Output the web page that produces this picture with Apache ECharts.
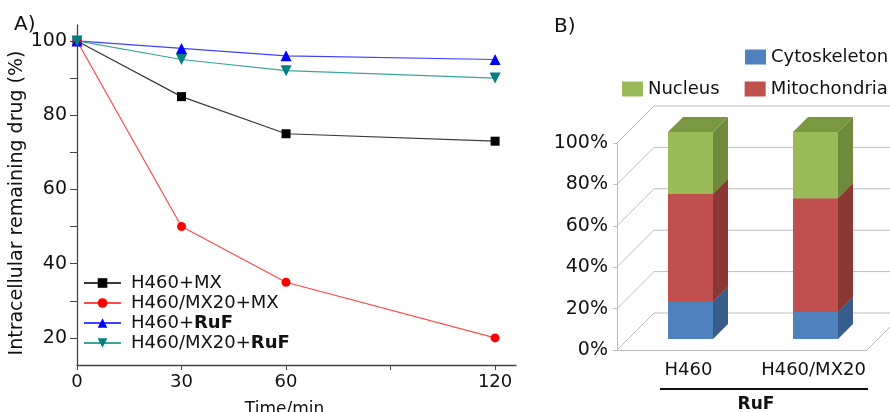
<!DOCTYPE html>
<html>
<head>
<meta charset="utf-8">
<script src="https://cdn.jsdelivr.net/npm/echarts@6/dist/echarts.min.js"></script>
<style>
  html, body { margin: 0; padding: 0; background: #fff; }
  #main { width: 890px; height: 412px; }
</style>
</head>
<body>
<div id="main"></div>
<script>
const font = 'DejaVu Sans'

// panel A: remaining drug over time
const times = [0, 30, 60, 120]
const h460MX = [100, 85, 75, 73]
const mx20MX = [100, 50, 35, 20]
const h460RuF = [100, 98, 96, 95]
const mx20RuF = [100, 95, 92, 90]
const timeLabels = [0, 30, 60, 120]
const timeTicks = [0, 30, 60, 90, 120]
const drugLabels = [20, 40, 60, 80, 100]
const drugTicks = [20, 30, 40, 50, 60, 70, 80, 90, 100]

// panel B: subcellular distribution (%)
const cells = ['H460', 'H460/MX20']
const cytoskeleton = [18, 13]
const mitochondria = [52, 55]
const nucleus = [30, 32]
const pctTicks = [0, 20, 40, 60, 80, 100]

const chart = echarts.init(document.getElementById('main'))

function pairs (ys) {
  return times.map((t, i) => [t, ys[i]])
}

// stack the three parts as [category, from, to]
function stacked (vals, below) {
  return vals.map((v, i) => {
    const base = below.reduce((s, arr) => s + arr[i], 0)
    return [i, base, base + v]
  })
}

const DEPTH = 37 // wall depth in px
const BAR_OFF = 11 // bar front face offset into the depth
const BAR_DEPTH = 15

function cuboid (front, side, top) {
  return function (params, api) {
    const cat = api.value(0)
    const lo = api.coord([cat, api.value(1)])
    const hi = api.coord([cat, api.value(2)])
    const w = api.size([1, 0])[0] * 0.36
    const x0 = lo[0] - w / 2 + BAR_OFF
    const x1 = x0 + w
    const yb = lo[1] - BAR_OFF
    const yt = hi[1] - BAR_OFF
    const d = BAR_DEPTH
    return {
      type: 'group',
      children: [
        { type: 'rect', shape: { x: x0, y: yt, width: w, height: yb - yt }, style: { fill: front } },
        { type: 'polygon', shape: { points: [[x1, yb], [x1 + d, yb - d], [x1 + d, yt - d], [x1, yt]] }, style: { fill: side } },
        { type: 'polygon', shape: { points: [[x0, yt], [x0 + d, yt - d], [x1 + d, yt - d], [x1, yt]] }, style: { fill: top } }
      ]
    }
  }
}

function walls (params, api) {
  const cs = params.coordSys
  const left = cs.x
  const right = cs.x + cs.width
  const y = api.coord([0, api.value(0)])[1]
  const lines = [{
    type: 'polyline',
    shape: { points: [[left, y], [left + DEPTH, y - DEPTH], [right + DEPTH, y - DEPTH]] },
    style: { stroke: '#bdbdbd', lineWidth: 1, fill: null }
  }]
  if (api.value(0) === 0) {
    lines.push({
      type: 'line',
      shape: { x1: right, y1: y, x2: right + DEPTH, y2: y - DEPTH },
      style: { stroke: '#bdbdbd', lineWidth: 1 }
    })
  }
  return { type: 'group', children: lines }
}

const option = {
  animation: false,
  textStyle: { fontFamily: font },
  title: [
    { text: 'A)', left: 9, top: 10, textStyle: { fontFamily: font, fontSize: 20, fontWeight: 'normal', color: '#111' } },
    { text: 'B)', left: 549, top: 12, textStyle: { fontFamily: font, fontSize: 20, fontWeight: 'normal', color: '#111' } }
  ],
  legend: [
    {
      orient: 'vertical',
      left: 83,
      top: 274,
      padding: 0,
      itemWidth: 37,
      itemHeight: 12,
      itemGap: 2,
      data: ['H460+MX', 'H460/MX20+MX', 'H460+RuF', 'H460/MX20+RuF'],
      formatter: name => name.replace('RuF', '{b|RuF}'),
      textStyle: {
        fontFamily: font,
        fontSize: 18,
        color: '#111',
        padding: [0, 0, 0, 5],
        rich: { b: { fontFamily: font, fontSize: 18, fontWeight: 'bold', color: '#111' } }
      }
    },
    {
      left: 745,
      top: 48,
      width: 200,
      padding: 0,
      icon: 'rect',
      itemWidth: 21,
      itemHeight: 15,
      data: ['Cytoskeleton'],
      textStyle: { fontFamily: font, fontSize: 18, color: '#111' }
    },
    {
      orient: 'horizontal',
      left: 622,
      top: 80,
      width: 320,
      padding: 0,
      icon: 'rect',
      itemWidth: 21,
      itemHeight: 15,
      itemGap: 25,
      data: ['Nucleus', 'Mitochondria'],
      textStyle: { fontFamily: font, fontSize: 18, color: '#111' }
    }
  ],
  grid: [
    { left: 77, top: 25, width: 439, height: 340, outerBoundsMode: 'none' },
    { left: 617, top: 143, width: 250, height: 207, outerBoundsMode: 'none' }
  ],
  xAxis: [
    {
      type: 'value',
      gridIndex: 0,
      min: 0,
      max: 126,
      name: 'Time/min',
      nameLocation: 'middle',
      nameGap: 36,
      nameTextStyle: { fontFamily: font, fontSize: 17, color: '#111', padding: [0, 24, 0, 0] },
      axisLine: { lineStyle: { color: '#444', width: 1.3 } },
      axisTick: { customValues: timeTicks, length: 5, lineStyle: { color: '#444' } },
      axisLabel: { customValues: timeLabels, fontFamily: font, fontSize: 18, color: '#111', margin: 8 },
      splitLine: { show: false }
    },
    {
      type: 'category',
      gridIndex: 1,
      data: cells,
      name: 'RuF',
      nameLocation: 'middle',
      nameGap: 46,
      nameTextStyle: { fontFamily: font, fontSize: 17, fontWeight: 'bold', color: '#111', padding: [0, 0, 0, 28] },
      axisLine: { lineStyle: { color: '#bdbdbd' } },
      axisTick: { length: 6, lineStyle: { color: '#bdbdbd' } },
      axisLabel: { interval: 0, hideOverlap: false, fontFamily: font, fontSize: 18, color: '#111', margin: 11, padding: [0, 0, 0, 18] }
    }
  ],
  yAxis: [
    {
      type: 'value',
      gridIndex: 0,
      min: 12.7,
      max: 104.3,
      name: 'Intracellular remaining drug (%)',
      nameLocation: 'middle',
      nameGap: 39,
      nameTextStyle: { fontFamily: font, fontSize: 19, color: '#111', padding: [0, 16, 0, 0] },
      axisLine: { show: true, lineStyle: { color: '#444', width: 1.3 } },
      axisTick: { show: true, customValues: drugTicks, length: 7, lineStyle: { color: '#444' } },
      axisLabel: { customValues: drugLabels, fontFamily: font, fontSize: 19, color: '#111', margin: 10 },
      splitLine: { show: false }
    },
    {
      type: 'value',
      gridIndex: 1,
      min: 0,
      max: 100,
      interval: 20,
      axisLine: { show: true, lineStyle: { color: '#bdbdbd' } },
      axisTick: { show: true, length: 4, lineStyle: { color: '#bdbdbd' } },
      axisLabel: { formatter: '{value}%', fontFamily: font, fontSize: 19, color: '#111', margin: 9 },
      splitLine: { show: false }
    }
  ],
  graphic: [
    { type: 'line', shape: { x1: 660, y1: 389, x2: 868, y2: 389 }, style: { stroke: '#111', lineWidth: 2 } }
  ],
  series: [
    {
      name: 'H460+MX',
      type: 'line',
      data: pairs(h460MX),
      symbol: 'rect',
      symbolSize: 9,
      itemStyle: { color: '#000' },
      lineStyle: { color: '#3a3a3a', width: 1.2 }
    },
    {
      name: 'H460/MX20+MX',
      type: 'line',
      data: pairs(mx20MX),
      symbol: 'circle',
      symbolSize: 9,
      itemStyle: { color: '#ff0000' },
      lineStyle: { color: '#ff4a4a', width: 1.2 }
    },
    {
      name: 'H460+RuF',
      type: 'line',
      data: pairs(h460RuF),
      symbol: 'triangle',
      symbolSize: 11,
      itemStyle: { color: '#0000ff' },
      lineStyle: { color: '#4040ff', width: 1.2 }
    },
    {
      name: 'H460/MX20+RuF',
      type: 'line',
      data: pairs(mx20RuF),
      symbol: 'triangle',
      symbolRotate: 180,
      symbolSize: 11,
      itemStyle: { color: '#008080' },
      lineStyle: { color: '#3aa59c', width: 1.2 }
    },
    {
      name: 'walls',
      type: 'custom',
      xAxisIndex: 1,
      yAxisIndex: 1,
      z: 1,
      silent: true,
      data: pctTicks.map(v => [v]),
      renderItem: walls
    },
    {
      name: 'Cytoskeleton',
      type: 'custom',
      xAxisIndex: 1,
      yAxisIndex: 1,
      z: 3,
      itemStyle: { color: '#4f81bd' },
      data: stacked(cytoskeleton, []),
      renderItem: cuboid('#4f81bd', '#385d8a', '#3f6796')
    },
    {
      name: 'Mitochondria',
      type: 'custom',
      xAxisIndex: 1,
      yAxisIndex: 1,
      z: 3,
      itemStyle: { color: '#c0504d' },
      data: stacked(mitochondria, [cytoskeleton]),
      renderItem: cuboid('#c0504d', '#8b3835', '#9a403d')
    },
    {
      name: 'Nucleus',
      type: 'custom',
      xAxisIndex: 1,
      yAxisIndex: 1,
      z: 3,
      itemStyle: { color: '#9bbb59' },
      data: stacked(nucleus, [cytoskeleton, mitochondria]),
      renderItem: cuboid('#9bbb59', '#6f8a3c', '#7a9841')
    }
  ]
}

chart.setOption(option)
</script>
</body>
</html>
